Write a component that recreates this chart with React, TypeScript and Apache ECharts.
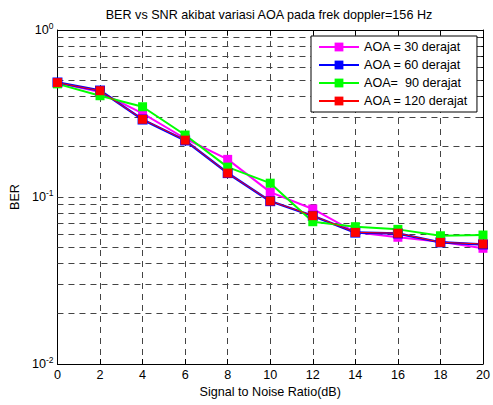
import React, { useEffect, useRef } from "react";
import * as echarts from "echarts";

const snr = [0, 2, 4, 6, 8, 10, 12, 14, 16, 18, 20];
const aoa30 = [0.483, 0.425, 0.317, 0.224, 0.168, 0.107, 0.0848, 0.0615, 0.0574, 0.054, 0.0493];
const aoa60 = [0.485, 0.434, 0.291, 0.218, 0.139, 0.0944, 0.0771, 0.0612, 0.0605, 0.0535, 0.052];
const aoa90 = [0.476, 0.404, 0.347, 0.235, 0.151, 0.121, 0.0711, 0.0664, 0.064, 0.0586, 0.0592];
const aoa120 = [0.484, 0.433, 0.292, 0.219, 0.139, 0.0946, 0.0773, 0.0614, 0.0607, 0.0535, 0.0523];
const seriesNames = ["AOA = 30 derajat", "AOA = 60 derajat", "AOA=  90 derajat", "AOA = 120 derajat"];
const yGridValues = [0.02, 0.03, 0.04, 0.05, 0.06, 0.07, 0.08, 0.09, 0.1, 0.2, 0.3, 0.4, 0.5, 0.6, 0.7, 0.8, 0.9];
const yTickValues = [0.01, 0.02, 0.03, 0.04, 0.05, 0.06, 0.07, 0.08, 0.09, 0.1, 0.2, 0.3, 0.4, 0.5, 0.6, 0.7, 0.8, 0.9, 1];

const FONT = "'Liberation Sans', Arial, Helvetica, sans-serif";
const FS = 12.6;
const GRID_STYLE = { color: "#444", width: 1, type: [6, 5] as number[] };

export default function App() {
  const ref = useRef<HTMLDivElement>(null);
  useEffect(() => {
    if (!ref.current) return;
    const chart = echarts.init(ref.current, undefined, { renderer: "svg" });
    const mk = (vals: number[]) => snr.map((x, i) => [x, vals[i]]);
    const series: any[] = [
      {
        name: seriesNames[0], type: "line", data: mk(aoa30), symbol: "rect", symbolSize: 9,
        lineStyle: { color: "#ff00ff", width: 2 }, itemStyle: { color: "#ff00ff" },
        markLine: {
          silent: true, symbol: ["none", "none"], label: { show: false }, z: 1,
          lineStyle: GRID_STYLE, emphasis: { disabled: true },
          data: yGridValues.map((v) => ({ yAxis: v })),
        },
      },
      {
        name: seriesNames[1], type: "line", data: mk(aoa60), symbol: "rect", symbolSize: 10,
        lineStyle: { color: "#0000ff", width: 2.5 }, itemStyle: { color: "#0000ff" },
      },
      {
        name: seriesNames[2], type: "line", data: mk(aoa90), symbol: "rect", symbolSize: 9,
        lineStyle: { color: "#00ff00", width: 2 }, itemStyle: { color: "#00ff00" },
      },
      {
        name: seriesNames[3], type: "line", data: mk(aoa120), symbol: "rect", symbolSize: 9,
        lineStyle: { color: "#ff0000", width: 1 }, itemStyle: { color: "#ff0000" },
      },
    ];
    chart.setOption({
      animation: false,
      backgroundColor: "#fff",
      textStyle: { fontFamily: FONT },
      title: {
        text: "BER vs SNR akibat variasi AOA pada frek doppler=156 Hz",
        left: 269, top: 8, padding: 0, textAlign: "center",
        textStyle: { fontSize: FS, fontWeight: "normal", color: "#000", fontFamily: FONT },
      },
      legend: {
        orient: "vertical", left: 311, top: 36, padding: [4, 9, 4, 7],
        backgroundColor: "#fff", borderColor: "#000", borderWidth: 1,
        itemWidth: 40, itemHeight: 11, itemGap: 4, selectedMode: false,
        textStyle: { fontSize: FS, color: "#000", lineHeight: 14, fontFamily: FONT },
        data: seriesNames,
      },
      grid: { left: 57, right: 9, top: 30, bottom: 41, containLabel: false },
      xAxis: [
        {
          type: "value", position: "bottom", min: 0, max: 20, interval: 2,
          name: "Signal to Noise Ratio(dB)", nameLocation: "middle", nameGap: 14,
          nameTextStyle: { fontSize: FS, color: "#000", fontFamily: FONT },
          axisLine: { show: true, onZero: false, lineStyle: { color: "#000", width: 1 } },
          axisTick: { show: true, inside: true, length: 5, lineStyle: { color: "#000" } },
          axisLabel: { fontSize: FS, color: "#000", margin: 4, fontFamily: FONT },
          splitLine: { show: true, lineStyle: GRID_STYLE },
        },
        {
          type: "value", position: "top", min: 0, max: 20, interval: 2,
          axisLine: { show: true, onZero: false, lineStyle: { color: "#000", width: 1 } },
          axisTick: { show: true, inside: true, length: 5, lineStyle: { color: "#000" } },
          axisLabel: { show: false },
          splitLine: { show: false },
        },
      ],
      yAxis: [
        {
          type: "log", logBase: 10, position: "left", min: 0.01, max: 1,
          name: "BER", nameLocation: "middle", nameGap: 33,
          nameTextStyle: { fontSize: FS, color: "#000", fontFamily: FONT },
          axisLine: { show: true, onZero: false, lineStyle: { color: "#000", width: 1 } },
          axisTick: { show: true, inside: true, length: 4, lineStyle: { color: "#000" }, customValues: yTickValues },
          axisLabel: {
            margin: 4, color: "#000",
            formatter: (v: number) => `{b|10}{s|${Math.round(Math.log10(v))}}`,
            rich: {
              b: { fontSize: FS, lineHeight: 18, color: "#000", fontFamily: FONT },
              s: { fontSize: 8.5, verticalAlign: "top", lineHeight: 18, color: "#000", fontFamily: FONT },
            },
          },
          splitLine: { show: false },
        },
        {
          type: "log", logBase: 10, position: "right", min: 0.01, max: 1,
          axisLine: { show: true, onZero: false, lineStyle: { color: "#000", width: 1 } },
          axisTick: { show: true, inside: true, length: 4, lineStyle: { color: "#000" }, customValues: yTickValues },
          axisLabel: { show: false },
          splitLine: { show: false },
        },
      ],
      series,
    });
    return () => chart.dispose();
  }, []);
  return (
    <div
      ref={ref}
      style={{ position: "absolute", left: 0, top: 0, width: 493, height: 405, background: "#fff" }}
    />
  );
}
